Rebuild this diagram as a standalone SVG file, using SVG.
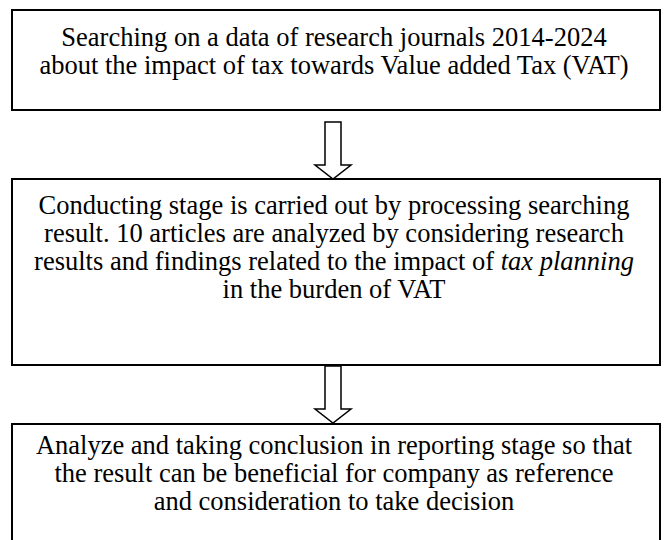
<svg xmlns="http://www.w3.org/2000/svg" width="666" height="540" viewBox="0 0 666 540">
  <style>
    .box { fill: #ffffff; stroke: #000000; stroke-width: 2; }
    .arrow { fill: #ffffff; stroke: #000000; stroke-width: 1.5; stroke-linejoin: miter; }
    text { font-family: "Liberation Serif", "Times New Roman", serif; font-size: 26.5px; fill: #000000; text-anchor: middle; }
    .it { font-style: italic; }
  </style>
  <rect x="0" y="0" width="666" height="540" fill="#ffffff"/>

  <!-- Step 1: search -->
  <g id="node-search">
    <rect class="box" x="12" y="10" width="648" height="100"/>
    <text x="334" y="46">Searching on a data of research journals 2014-2024</text>
    <text x="334" y="74">about the impact of tax towards Value added Tax (VAT)</text>
  </g>

  <!-- Step 2: conducting -->
  <g id="node-conduct">
    <rect class="box" x="12" y="179" width="648" height="186"/>
    <text x="334" y="214">Conducting stage is carried out by processing searching</text>
    <text x="334" y="242">result. 10 articles are analyzed by considering research</text>
    <text x="334" y="270">results and findings related to the impact of <tspan class="it">tax planning</tspan></text>
    <text x="334" y="298">in the burden of VAT</text>
  </g>

  <!-- Step 3: reporting (runs past the lower edge) -->
  <g id="node-report">
    <rect class="box" x="12" y="424" width="648" height="130"/>
    <text x="334" y="454">Analyze and taking conclusion in reporting stage so that</text>
    <text x="334" y="482">the result can be beneficial for company as reference</text>
    <text x="334" y="510">and consideration to take decision</text>
  </g>

  <!-- Block arrows between steps -->
  <g id="connectors">
    <path class="arrow" d="M325,122 H341 V165 H351 L333,179 L315,165 H325 Z"/>
    <path class="arrow" d="M325,366 H341 V409 H351 L333,423 L315,409 H325 Z"/>
  </g>
</svg>
